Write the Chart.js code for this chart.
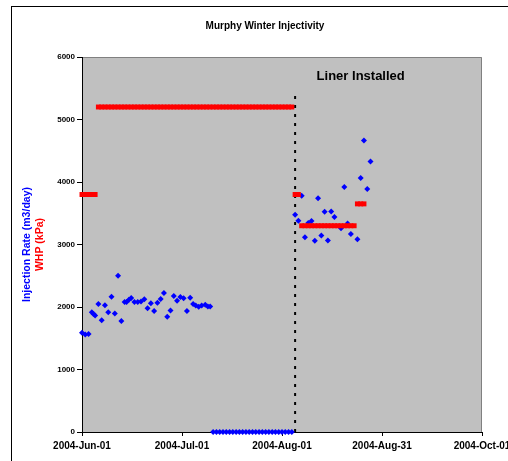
<!DOCTYPE html>
<html>
<head>
<meta charset="utf-8">
<style>
    body { margin: 0; background: #fff; }
    #frame { position: absolute; left: 11px; top: 6px; width: 600px; height: 600px; border: 1px solid #000; }
    #c { position: absolute; left: 0; top: 0; }
</style>
</head>
<body>
<div id="frame"></div>
<canvas id="c" width="508" height="461"></canvas>

<script src="https://cdn.jsdelivr.net/npm/chart.js@4/dist/chart.umd.min.js"></script>
<script>
    // days since 2004-Jun-01
    var injDays = [0, 1, 2, 3, 3.5, 4, 5, 6, 7, 8, 9, 10, 11, 12, 13, 13.6, 14.3, 15, 16, 17, 18, 19, 20, 21, 22,
        23, 24, 25, 26, 27, 28, 29, 30, 31, 32, 33, 33.9, 34.7, 35.6, 36.5, 37.6, 38.4, 39.1,
        40, 41, 42, 43, 44, 45, 46, 47, 48, 49, 50, 51, 52, 53, 54, 55, 56, 57, 58, 59, 60, 61, 62, 63, 64,
        65, 66, 67, 68, 69, 70, 71, 72, 73, 74, 75, 76, 77, 79, 80, 81, 82, 84, 85, 86, 87, 88];
    var injRate = [1590, 1560, 1570, 1915, 1890, 1865, 2050, 1790, 2030, 1915, 2165, 1895, 2500, 1775, 2080, 2080, 2115, 2145, 2080, 2080, 2090, 2125, 1980, 2060, 1935,
        2070, 2130, 2225, 1845, 1945, 2175, 2100, 2160, 2140, 1935, 2150, 2050, 2025, 2005, 2025, 2035, 2010, 2010,
        0, 0, 0, 0, 0, 0, 0, 0, 0, 0, 0, 0, 0, 0, 0, 0, 0, 0, 0, 0, 0, 0, 0, 0, 0,
        3475, 3380, 3780, 3115, 3345, 3375, 3060, 3740, 3145, 3525, 3065, 3530, 3440, 3260, 3920, 3335, 3170, 3085, 4065, 4665, 3890, 4330];

    var whpDays = [0, 1, 2, 3, 4,
        5, 6, 7, 8, 9, 10, 11, 12, 13, 14, 15, 16, 17, 18, 19, 20, 21, 22, 23, 24, 25, 26, 27, 28, 29, 30, 31, 32, 33, 34, 35,
        36, 37, 38, 39, 40, 41, 42, 43, 44, 45, 46, 47, 48, 49, 50, 51, 52, 53, 54, 55, 56, 57, 58, 59, 60, 61, 62, 63, 64, 65, 66,
        67, 68,
        69, 70, 71, 72, 73, 74, 75, 76, 77, 78, 79, 80, 81, 82, 83, 84, 85,
        86, 87, 88];
    var whpValues = [3800, 3800, 3800, 3800, 3800,
        5200, 5200, 5200, 5200, 5200, 5200, 5200, 5200, 5200, 5200, 5200, 5200, 5200, 5200, 5200, 5200, 5200, 5200, 5200, 5200, 5200, 5200, 5200, 5200, 5200, 5200, 5200,
        5200, 5200, 5200, 5200, 5200, 5200, 5200, 5200, 5200, 5200, 5200, 5200, 5200, 5200, 5200, 5200, 5200, 5200, 5200, 5200, 5200, 5200, 5200, 5200, 5200, 5200,
        5200, 5200, 5200, 5200, 5200, 5200, 5200,
        3800, 3800,
        3300, 3300, 3300, 3300, 3300, 3300, 3300, 3300, 3300, 3300, 3300, 3300, 3300, 3300, 3300, 3300, 3300,
        3650, 3650, 3650];

    var linerDay = 65;          // 2004-Aug-05
    var linerTop = 5430;
    var xTickLabels = ['2004-Jun-01', '2004-Jul-01', '2004-Aug-01', '2004-Aug-31', '2004-Oct-01'];

    var FONT = 'Liberation Sans, Arial, sans-serif';

    const plotBox = {
        id: 'plotBox',
        beforeDraw(chart) {
            const a = chart.chartArea, ctx = chart.ctx;
            ctx.save();
            ctx.fillStyle = '#c0c0c0';
            ctx.fillRect(a.left, a.top, a.right - a.left, a.bottom - a.top);
            ctx.strokeStyle = '#808080';
            ctx.lineWidth = 1;
            ctx.beginPath();
            ctx.moveTo(a.left, a.top + 0.5);
            ctx.lineTo(a.right - 0.5, a.top + 0.5);
            ctx.lineTo(a.right - 0.5, a.bottom);
            ctx.stroke();
            ctx.restore();
        },
        afterDraw(chart) {
            const ctx = chart.ctx, x = chart.scales.x, y = chart.scales.y;
            ctx.save();
            ctx.fillStyle = '#000';
            ctx.textAlign = 'center';
            ctx.textBaseline = 'alphabetic';
            ctx.font = 'bold 10px ' + FONT;
            ctx.fillText('Murphy Winter Injectivity', 265, 29);
            ctx.font = 'bold 13px ' + FONT;
            ctx.fillText('Liner Installed', x.getPixelForValue(85), y.getPixelForValue(5640));
            // axis title, two colours
            ctx.translate(0, (chart.chartArea.top + chart.chartArea.bottom) / 2);
            ctx.rotate(-Math.PI / 2);
            ctx.textBaseline = 'middle';
            ctx.font = 'bold 10.5px ' + FONT;
            ctx.fillStyle = '#0000ff';
            ctx.fillText('Injection Rate (m3/day)', 0, 27);
            ctx.fillStyle = '#ff0000';
            ctx.fillText('WHP (kPa)', 0, 40);
            ctx.restore();
        }
    };

    new Chart(document.getElementById('c'), {
        type: 'scatter',
        data: {
            datasets: [
                {
                    label: 'WHP (kPa)',
                    data: whpDays.map((d, i) => ({ x: d, y: whpValues[i] })),
                    pointStyle: 'rect',
                    pointRadius: 3.5,
                    pointBorderWidth: 0,
                    backgroundColor: '#ff0000',
                    borderColor: '#ff0000',
                    clip: false,
                    order: 0
                },
                {
                    label: 'Injection Rate (m3/day)',
                    data: injDays.map((d, i) => ({ x: d, y: injRate[i] })),
                    pointStyle: 'rectRot',
                    pointRadius: 3,
                    pointBorderWidth: 0,
                    backgroundColor: '#0000ff',
                    borderColor: '#0000ff',
                    clip: false,
                    order: 1
                },
                {
                    type: 'line',
                    label: 'Liner Installed',
                    data: [{ x: linerDay, y: 0 }, { x: linerDay, y: linerTop }],
                    borderColor: '#000',
                    borderWidth: 2,
                    borderDash: [3, 6],
                    pointRadius: 0,
                    fill: false,
                    order: 2
                }
            ]
        },
        options: {
            responsive: false,
            animation: false,
            layout: { padding: { left: 0, top: 57, right: 26, bottom: 0 } },
            plugins: {
                legend: { display: false },
                title: { display: false },
                tooltip: { enabled: false }
            },
            scales: {
                x: {
                    type: 'linear',
                    min: 0,
                    max: 122,
                    afterFit: (s) => { s.height = 29; s.paddingLeft = 0; s.paddingRight = 0; },
                    grid: { drawOnChartArea: false, drawTicks: true, tickLength: 4, color: '#000' },
                    border: { color: '#000', width: 1 },
                    ticks: {
                        stepSize: 30.5,
                        autoSkip: false,
                        maxRotation: 0,
                        padding: 4,
                        color: '#000',
                        font: { family: FONT, size: 10, weight: 'bold' },
                        callback: (v, i) => xTickLabels[i]
                    }
                },
                y: {
                    min: 0,
                    max: 6000,
                    afterFit: (s) => { s.width = 82; s.paddingTop = 0; s.paddingBottom = 0; },
                    grid: { drawOnChartArea: false, drawTicks: true, tickLength: 5, color: '#000' },
                    border: { color: '#000', width: 1 },
                    ticks: {
                        stepSize: 1000,
                        padding: 2,
                        color: '#000',
                        font: { family: FONT, size: 8, weight: 'bold' },
                        callback: (v) => String(v)
                    }
                }
            }
        },
        plugins: [plotBox]
    });
</script>
</body>
</html>
